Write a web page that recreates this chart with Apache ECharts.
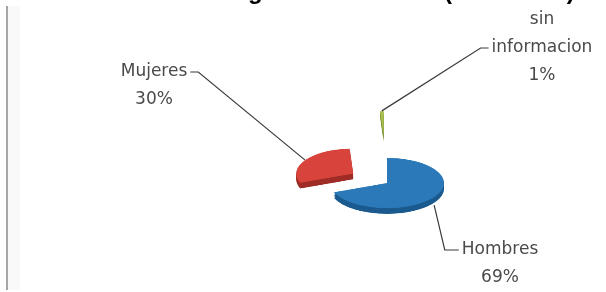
<!DOCTYPE html>
<html><head><meta charset="utf-8">
<script src="https://cdn.jsdelivr.net/npm/echarts@6/dist/echarts.min.js"></script>
<style>
html,body{margin:0;padding:0;background:#fff;}
#wrap{position:relative;width:606px;height:292px;overflow:hidden;background:#fff;}
#pie{position:absolute;left:0;top:0;width:606px;height:292px;transform-origin:0 183px;transform:scaleY(0.44);}
#ov{position:absolute;left:0;top:0;width:606px;height:292px;}
</style></head>
<body><div id="wrap"><div id="pie"></div><div id="ov"></div></div>
<script>
// ---- data ----
const titleText = 'Lago de Maracaibo (1650-1760)';
const categories = ['Hombres', 'Mujeres', 'sin informacion'];
const values = [69, 30, 1];

// ---- style / layout ----
const colors = ['#2b79b8', '#d8433b', '#a9c24f'];
const sideColors = ['#1b5a8f', '#9f2c26', '#7b9236'];
const explode = [0, 40, 107];
const K = 0.44, CX = 387, CY = 183, R = 57, DEPTH = 13;
const FONT = 'DejaVu Sans', FS = 17, LH = 28;
const labelBoxes = [
  {x: 500, y: 236, side: 'left', line: 0, bend: 14, drop: 8},
  {x: 154, y: 58, side: 'right', line: 0, bend: 8, drop: 0},
  {x: 542, y: 6, side: 'left', line: 1, bend: 8, drop: 0}
];

const total = values.reduce((a, b) => a + b, 0);
const mids = [];
let cum = 0;
values.forEach(v => { mids.push((90 - 360 * (cum + v / 2) / total) * Math.PI / 180); cum += v; });
const centers = values.map((v, i) => [CX + explode[i] * Math.cos(mids[i]), CY - explode[i] * Math.sin(mids[i])]);

function sliceSeries(i, dy, color, z) {
  return {
    type: 'pie', silent: true, animation: false, z: z,
    center: [centers[i][0], centers[i][1] + dy], radius: R,
    startAngle: 90, clockwise: true,
    label: {show: false}, labelLine: {show: false},
    emphasis: {disabled: true},
    data: categories.map((c, j) => ({
      name: c, value: values[j],
      itemStyle: {color: j === i ? color : 'rgba(0,0,0,0)'}
    }))
  };
}
const pieSeries = [];
const order = [2, 1, 0];
order.forEach((i, k) => {
  [1, 0.75, 0.5, 0.25].forEach((f, m) => pieSeries.push(sliceSeries(i, DEPTH * f, sideColors[i], k * 10 + m)));
  pieSeries.push(sliceSeries(i, 0, colors[i], k * 10 + 5));
});
const pieChart = echarts.init(document.getElementById('pie'), null, {renderer: 'canvas'});
pieChart.setOption({animation: false, series: pieSeries});

const ctx = document.createElement('canvas').getContext('2d');
ctx.font = FS + 'px "' + FONT + '"';
function labelLines(i) { return categories[i].replace(' ', '\n').split('\n'); }

const ov = echarts.init(document.getElementById('ov'));
ov.setOption({
  animation: false,
  title: {
    text: titleText, left: 220, top: -20, padding: 0,
    textStyle: {fontFamily: 'Liberation Sans', fontWeight: 'bold', fontSize: 24, color: '#000'}
  },
  graphic: [
    {type: 'rect', shape: {x: 8, y: 6, width: 12, height: 284}, style: {fill: '#f9f9f9'}, silent: true},
    {type: 'rect', shape: {x: 6, y: 6, width: 2, height: 284}, style: {fill: '#a6a6a6'}, silent: true}
  ],
  series: [{
    type: 'pie', silent: true, center: [CX, CY], radius: R * 0.3,
    startAngle: 90, clockwise: true,
    itemStyle: {color: 'rgba(0,0,0,0)'},
    emphasis: {disabled: true},
    label: {
      show: true, fontFamily: FONT, fontSize: FS, lineHeight: LH, color: '#4a4a4a',
      formatter: p => p.name.replace(' ', '\n') + '\n' + Math.round(p.percent) + '%'
    },
    labelLine: {show: true, lineStyle: {color: '#3a3a3a', width: 1.2}},
    labelLayout: function (p) {
      const i = p.dataIndex, b = labelBoxes[i];
      const w = ctx.measureText(labelLines(i)[b.line]).width;
      const ey = b.y + LH * (b.line + 0.5);
      const ex = b.side === 'right' ? b.x + w / 2 + 3 : b.x - w / 2 - 3;
      const bx = b.side === 'right' ? ex + b.bend : ex - b.bend;
      const sx = centers[i][0] + R * Math.cos(mids[i]);
      const syPre = centers[i][1] - R * Math.sin(mids[i]);
      const sy = CY + (syPre - CY) * K + b.drop;
      return {x: b.x, y: b.y, align: 'center', verticalAlign: 'top',
              labelLinePoints: [[sx, sy], [bx, ey], [ex, ey]]};
    },
    data: categories.map((c, j) => ({name: c, value: values[j]}))
  }]
});
</script>
</body></html>
